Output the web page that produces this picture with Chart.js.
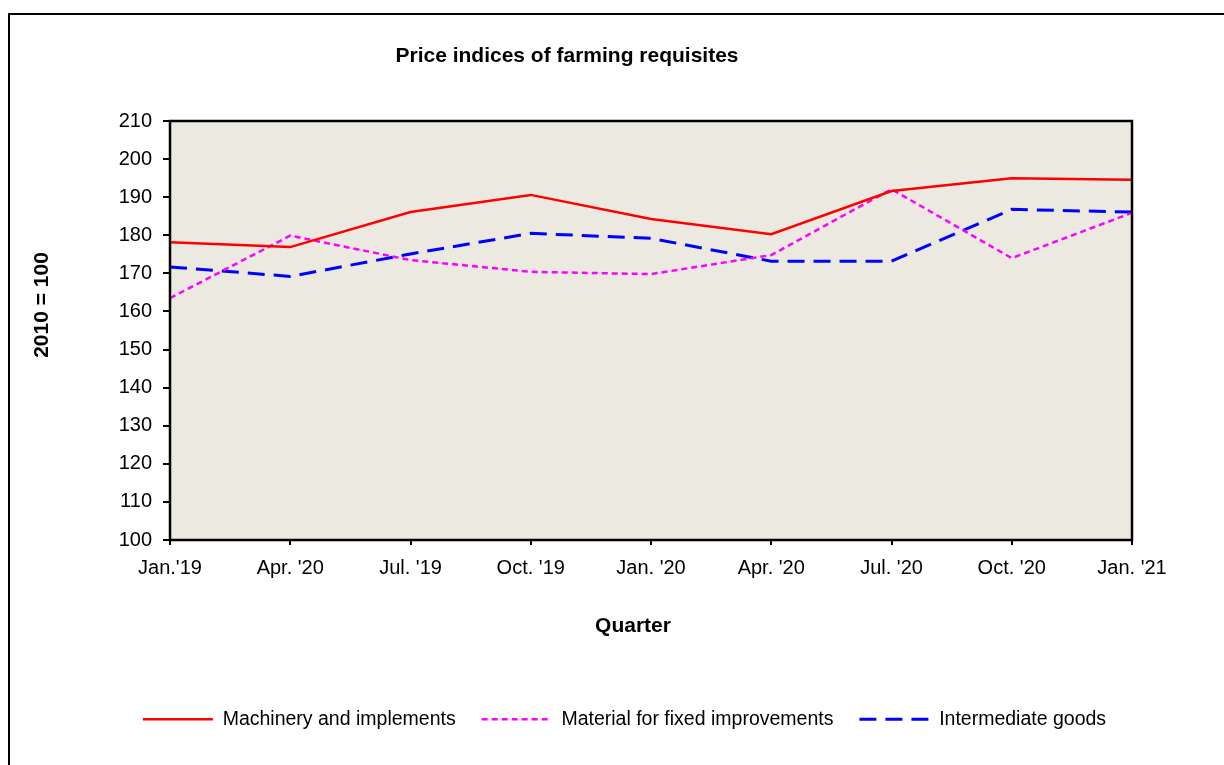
<!DOCTYPE html>
<html><head><meta charset="utf-8">
<script src="https://cdn.jsdelivr.net/npm/chart.js@4.4.1/dist/chart.umd.min.js"></script>
<style>html,body{margin:0;padding:0;background:#fff;overflow:hidden}canvas{display:block}</style>
</head><body>
<div style="position:relative;width:1224px;height:765px"><canvas id="c"></canvas></div>
<script>
const categories = ["Jan.'19", "Apr. '20", "Jul. '19", "Oct. '19", "Jan. '20", "Apr. '20", "Jul. '20", "Oct. '20", "Jan. '21"];
const machinery = [178.2, 176.9, 186.1, 190.6, 184.3, 180.3, 191.6, 195.0, 194.6];
const material = [163.5, 179.9, 173.5, 170.4, 169.8, 174.8, 192.1, 174.0, 185.9];
const intermediate = [171.7, 169.2, 175.1, 180.5, 179.2, 173.2, 173.2, 186.8, 186.1];
const seriesNames = ["Machinery and implements", "Material for fixed improvements", "Intermediate goods"];
const yMin = 100, yMax = 210, yStep = 10;
const chartTitle = "Price indices of farming requisites";
const xTitle = "Quarter";
const yTitle = "2010 = 100";

const FONT = '"Liberation Sans", Arial, sans-serif';

const decor = {
  id: 'decor',
  beforeDraw(chart) {
    const {ctx, chartArea: a} = chart;
    ctx.save();
    ctx.fillStyle = '#fff';
    ctx.fillRect(0, 0, chart.width, chart.height);
    ctx.fillStyle = 'rgb(236,233,224)';
    ctx.fillRect(a.left, a.top, a.right - a.left, a.bottom - a.top);
    ctx.strokeStyle = '#000';
    ctx.lineWidth = 2;
    ctx.beginPath();
    ctx.moveTo(9, chart.height);
    ctx.lineTo(9, 14);
    ctx.lineTo(chart.width, 14);
    ctx.stroke();
    ctx.restore();
  },
  afterDatasetsDraw(chart) {
    const {ctx, chartArea: a} = chart;
    ctx.save();
    ctx.strokeStyle = '#000';
    ctx.lineWidth = 2.5;
    ctx.strokeRect(a.left, a.top, a.right - a.left, a.bottom - a.top);
    ctx.fillStyle = '#000';
    ctx.textAlign = 'center';
    ctx.textBaseline = 'middle';
    ctx.font = 'bold 21px ' + FONT;
    ctx.fillText(chartTitle, 567, 56);
    ctx.fillText(xTitle, 633, 626);
    ctx.translate(42, 305);
    ctx.rotate(-Math.PI / 2);
    ctx.fillText(yTitle, 0, 0);
    ctx.restore();
  }
};

new Chart(document.getElementById('c'), {
  type: 'line',
  data: {
    labels: categories,
    datasets: [
      {label: seriesNames[0], data: machinery, borderColor: '#ff0000', backgroundColor: '#ff0000', borderWidth: 2.5, pointRadius: 0, tension: 0, fill: false},
      {label: seriesNames[1], data: material, borderColor: '#ff00ff', backgroundColor: '#ff00ff', borderWidth: 2.5, borderDash: [6, 4], pointRadius: 0, tension: 0, fill: false},
      {label: seriesNames[2], data: intermediate, borderColor: '#0000ff', backgroundColor: '#0000ff', borderWidth: 3, borderDash: [17, 9], pointRadius: 0, tension: 0, fill: false}
    ]
  },
  options: {
    responsive: true,
    maintainAspectRatio: false,
    animation: false,
    layout: {padding: {top: 121, left: 25, right: 0, bottom: 26}},
    plugins: {
      title: {display: false},
      tooltip: {enabled: false},
      legend: {
        display: true,
        position: 'bottom',
        labels: {
          usePointStyle: true,
          pointStyle: 'line',
          pointStyleWidth: 70,
          padding: 26,
          color: '#000',
          font: {family: FONT, size: 19.5},
          generateLabels(chart) {
            const items = Chart.defaults.plugins.legend.labels.generateLabels(chart);
            items.forEach(it => {
              const ds = chart.data.datasets[it.datasetIndex];
              it.lineDash = ds.borderDash || [];
              it.lineWidth = ds.borderWidth;
              it.strokeStyle = ds.borderColor;
              it.pointStyle = 'line';
            });
            return items;
          }
        }
      }
    },
    scales: {
      x: {
        offset: false,
        grid: {display: true, drawOnChartArea: false, drawTicks: true, tickLength: 5, color: '#000', lineWidth: 2, offset: false},
        border: {display: false},
        ticks: {color: '#000', padding: 11, maxRotation: 0, autoSkip: false, font: {family: FONT, size: 20}},
        afterFit(s) { const lg = s.chart.legend; s.height = 765 - 26 - (lg ? lg.height : 0) - 540; }
      },
      y: {
        min: yMin, max: yMax,
        grid: {display: true, drawOnChartArea: false, drawTicks: true, tickLength: 7, color: '#000', lineWidth: 2},
        border: {display: false},
        ticks: {stepSize: yStep, color: '#000', padding: 11, font: {family: FONT, size: 20}},
        afterFit(s) { s.width = 145; }
      },
      yR: {
        position: 'right', display: true,
        grid: {display: false}, border: {display: false}, ticks: {display: false},
        afterFit(s) { s.width = 92; }
      }
    }
  },
  plugins: [decor]
});
</script>
</body></html>
